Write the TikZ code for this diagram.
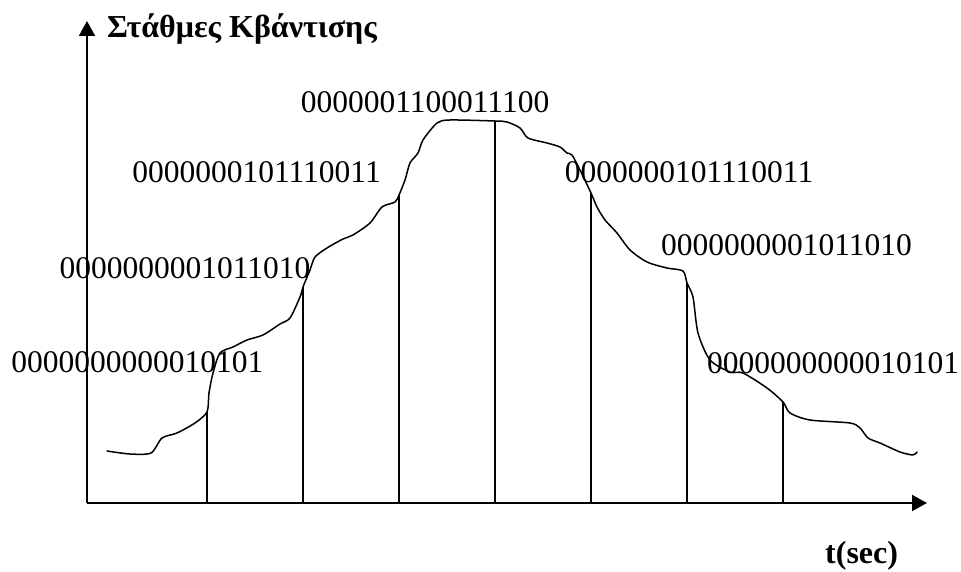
\documentclass[tikz,border=0pt]{standalone}
\usepackage{fontspec}
\setmainfont{Liberation Serif}
\usetikzlibrary{arrows.meta}
\tikzset{
  axis/.style={line width=2pt, -{Triangle[length=15pt,width=16pt]}},
  sample/.style={line width=1.5pt},
  signal/.style={line width=1.5pt, line join=round, line cap=round},
  code/.style={inner sep=0pt, font=\fontsize{31.5}{32}\selectfont},
  axlabel/.style={inner sep=0pt, font=\fontsize{32}{34}\selectfont\bfseries}
}
\begin{document}
\begin{tikzpicture}[x=1pt,y=-1pt]
\useasboundingbox (0,0) rectangle (961,572);
% axes
\coordinate (O) at (87,503);
\coordinate (Ytop) at (87,21);
\coordinate (Xend) at (927,503);
\draw[axis] (O) -- (Ytop);
\draw[axis] (O) -- (Xend);
% signal
\draw[signal] plot[smooth, tension=0.45] coordinates {
(107,451) (130,454) (151,453) (162,438) (177,433) (195,423) (207,412) (209,393) (213,373) (220,353) (233,347) (247,340) (263,335) (280,324) (290,318) (300,297) (303,287) (310,270) (315,257) (327,248) (343,239) (353,235) (370,223) (382,207) (395,202) (399,195) (405,180) (410,163) (418,153) (423,140) (437,123) (450,120) (495,121) (507,122) (520,128) (528,138) (547,143) (560,147) (567,153) (572,155) (580,170) (591,193) (597,207) (605,220) (617,233) (630,250) (647,262) (667,268) (683,271) (687,283) (693,297) (698,333) (710,360) (730,372) (743,373) (767,388) (783,402) (790,413) (810,420) (850,423) (860,428) (868,438) (880,443) (900,452) (913,455) (917,452)};
% sample lines
\foreach \x/\y [count=\i] in {207/412, 303/287, 399/195, 495/121, 591/193, 687/283, 783/402}{
  \coordinate (s\i) at (\x,\y);
  \coordinate (b\i) at (\x,503);
  \draw[sample] (b\i) -- (s\i);
}
% codes
\node[code] (c1) at (137.5,362) {0000000000010101};
\node[code] (c2) at (185,268) {0000000001011010};
\node[code] (c3) at (256.5,172) {0000000101110011};
\node[code] (c4) at (425,102) {0000001100011100};
\node[code] (c5) at (689,172) {0000000101110011};
\node[code] (c6) at (786.5,245) {0000000001011010};
\node[code] (c7) at (833,363) {0000000000010101};
% axis labels
\node[axlabel, anchor=base west] (yl) at (107,38) {Στάθμες Κβάντισης};
\node[axlabel, anchor=base west] (xl) at (825,563) {t(sec)};
\end{tikzpicture}
\end{document}
